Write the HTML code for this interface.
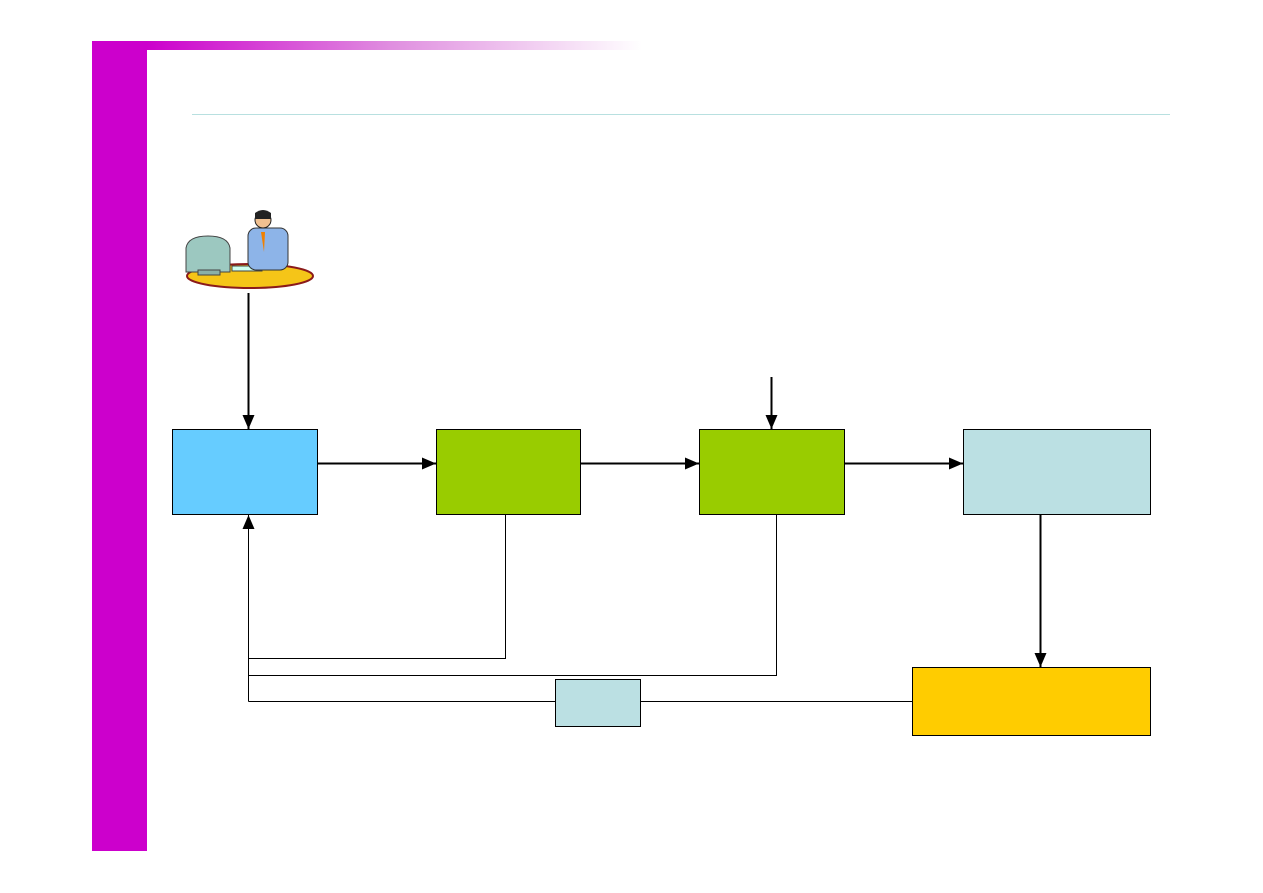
<!DOCTYPE html>
<html><head><meta charset="utf-8"><style>
html,body{margin:0;padding:0;background:#fff;width:1263px;height:893px;overflow:hidden}
</style></head><body>
<svg width="1263" height="893" viewBox="0 0 1263 893" xmlns="http://www.w3.org/2000/svg">
<defs>
<linearGradient id="g" x1="0" x2="1" y1="0" y2="0">
<stop offset="0" stop-color="#cc00cc"/><stop offset="0.5" stop-color="#e090e0"/><stop offset="1" stop-color="#ffffff"/>
</linearGradient>
<marker id="a" markerWidth="16" markerHeight="14" refX="14" refY="6" orient="auto" markerUnits="userSpaceOnUse">
<path d="M0,0 L14,6 L0,12 z" fill="#000"/>
</marker>
</defs>
<rect x="92" y="41" width="55" height="810" fill="#cc00cc"/>
<rect x="147" y="41" width="495" height="9" fill="url(#g)"/>
<line x1="192" y1="114.5" x2="1170" y2="114.5" stroke="#b8e0e0" stroke-width="1"/>
<!-- clip art -->
<ellipse cx="250" cy="276" rx="63" ry="12" fill="#f5c518" stroke="#8b1a1a" stroke-width="2"/>
<path d="M186,248 q2,-12 22,-12 q20,0 22,12 l0,24 l-44,0z" fill="#9cc8c0" stroke="#444"/>
<rect x="198" y="270" width="22" height="5" fill="#8ab0a8" stroke="#444"/>
<rect x="232" y="266" width="30" height="5" fill="#cfe" stroke="#444"/>
<rect x="248" y="228" width="40" height="42" rx="8" fill="#8db4e8" stroke="#333"/>
<circle cx="263" cy="220" r="8" fill="#f0c090" stroke="#222"/>
<path d="M255,213 q8,-6 16,0 l0,6 l-16,0z" fill="#222"/>
<path d="M261,232 l4,0 l-1,20 z" fill="#f08000"/>
<!-- vertical arrow from clip art -->
<line x1="248.5" y1="293" x2="248.5" y2="429" stroke="#000" stroke-width="2" marker-end="url(#a)"/>
<!-- boxes -->
<rect x="172.5" y="429.5" width="145" height="85" fill="#66ccff" stroke="#000"/>
<rect x="436.5" y="429.5" width="144" height="85" fill="#99cc00" stroke="#000"/>
<rect x="699.5" y="429.5" width="145" height="85" fill="#99cc00" stroke="#000"/>
<rect x="963.5" y="429.5" width="187" height="85" fill="#bbe0e3" stroke="#000"/>
<rect x="912.5" y="667.5" width="238" height="68" fill="#ffcc00" stroke="#000"/>
<rect x="555.5" y="679.5" width="85" height="47" fill="#bbe0e3" stroke="#000"/>
<!-- horizontal arrows -->
<line x1="318" y1="463.5" x2="436" y2="463.5" stroke="#000" stroke-width="2" marker-end="url(#a)"/>
<line x1="581" y1="463.5" x2="699" y2="463.5" stroke="#000" stroke-width="2" marker-end="url(#a)"/>
<line x1="845" y1="463.5" x2="963" y2="463.5" stroke="#000" stroke-width="2" marker-end="url(#a)"/>
<line x1="771.5" y1="377" x2="771.5" y2="429" stroke="#000" stroke-width="2" marker-end="url(#a)"/>
<line x1="1040.5" y1="515" x2="1040.5" y2="667" stroke="#000" stroke-width="2" marker-end="url(#a)"/>
<!-- feedback lines -->
<polyline points="505.5,515 505.5,658.5 248.5,658.5" fill="none" stroke="#000" stroke-width="1"/>
<polyline points="776.5,515 776.5,675.5 248.5,675.5" fill="none" stroke="#000" stroke-width="1"/>
<line x1="912" y1="701.5" x2="641" y2="701.5" stroke="#000" stroke-width="1"/>
<line x1="555" y1="701.5" x2="248.5" y2="701.5" stroke="#000" stroke-width="1"/>
<line x1="248.5" y1="701.5" x2="248.5" y2="515" stroke="#000" stroke-width="1" marker-end="url(#a)"/>
</svg>
</body></html>
